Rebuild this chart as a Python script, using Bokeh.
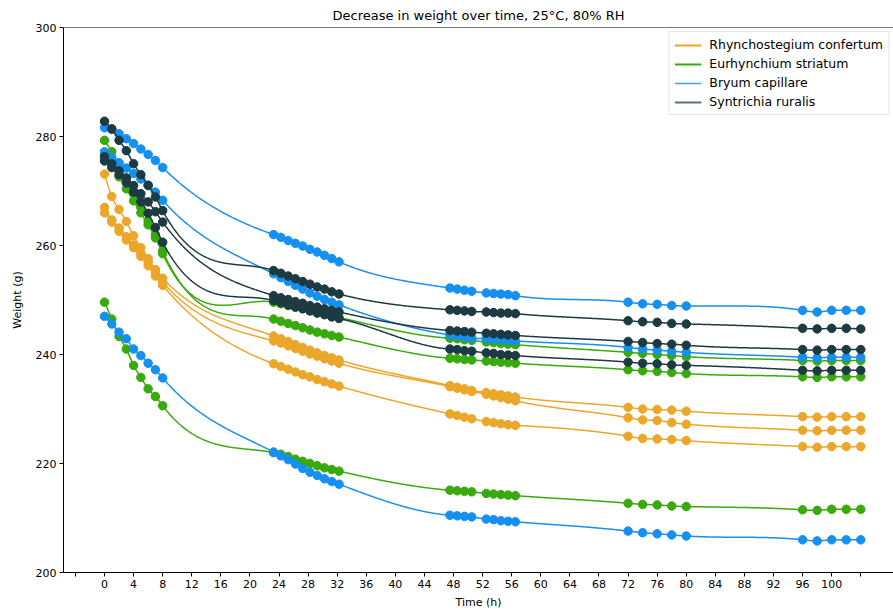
import numpy as np
from bokeh.plotting import figure
from bokeh.models import FixedTicker, Legend, LegendItem, Span, Range1d
from bokeh.embed import file_html
from bokeh.resources import INLINE

# ---------------- data ----------------
time_h = [0, 1, 2, 3, 4, 5, 6, 7, 8,
          23.25, 24.25, 25.25, 26.25, 27.25, 28.25, 29.25, 30.25, 31.25, 32.25,
          47.5, 48.5, 49.5, 50.5, 52.5, 53.5, 54.5, 55.5, 56.5,
          72, 74, 76, 78, 80,
          96, 98, 100, 102, 104]

rhyn_1 = [273.1, 269.0, 266.6, 264.4, 261.8, 259.6, 257.6, 255.6, 254.0,
          243.4, 242.9, 242.4, 241.8, 241.3, 240.8, 240.3, 239.8, 239.4, 239.0,
          234.3, 234.0, 233.7, 233.4, 233.0, 232.8, 232.6, 232.4, 232.2,
          230.3, 230.0, 229.9, 229.8, 229.6,
          228.6, 228.5, 228.6, 228.6, 228.6]
rhyn_2 = [267.0, 264.7, 263.2, 261.6, 260.1, 258.6, 257.0, 255.0, 253.3,
          242.5, 242.1, 241.6, 241.1, 240.6, 240.1, 239.7, 239.2, 238.8, 238.4,
          234.1, 233.8, 233.5, 233.2, 232.7, 232.4, 232.1, 231.8, 231.5,
          228.4, 228.0, 227.9, 227.5, 227.2,
          226.1, 226.0, 226.1, 226.1, 226.1]
rhyn_3 = [266.0, 264.3, 262.6, 261.0, 259.6, 258.0, 256.3, 254.4, 252.7,
          238.3, 237.8, 237.3, 236.8, 236.3, 235.9, 235.4, 235.0, 234.6, 234.2,
          229.1, 228.8, 228.5, 228.2, 227.7, 227.5, 227.3, 227.1, 227.0,
          225.0, 224.6, 224.5, 224.4, 224.2,
          223.1, 223.0, 223.1, 223.1, 223.1]

eurh_1 = [279.3, 277.2, 274.8, 272.0, 269.5, 267.0, 264.5, 262.0, 259.0,
          246.5, 246.1, 245.7, 245.3, 244.9, 244.5, 244.1, 243.8, 243.5, 243.2,
          239.3, 239.2, 239.1, 239.0, 238.8, 238.7, 238.6, 238.5, 238.4,
          237.2, 237.0, 236.9, 236.7, 236.5,
          235.9, 235.8, 235.9, 235.9, 235.9]
eurh_2 = [277.0, 275.0, 272.6, 270.4, 268.2, 266.0, 263.8, 261.4, 258.5,
          249.6, 249.3, 249.0, 248.7, 248.4, 248.1, 247.7, 247.4, 247.1, 246.8,
          243.0, 242.9, 242.7, 242.6, 242.3, 242.2, 242.0, 241.9, 241.8,
          240.4, 240.2, 240.0, 239.8, 239.6,
          238.9, 238.8, 238.9, 238.9, 238.9]
eurh_3 = [249.6, 246.5, 243.3, 241.0, 238.0, 235.8, 233.7, 232.3, 230.6,
          222.0, 221.7, 221.3, 220.8, 220.4, 220.0, 219.6, 219.2, 218.9, 218.6,
          215.1, 215.0, 214.9, 214.8, 214.5, 214.4, 214.3, 214.2, 214.1,
          212.7, 212.5, 212.4, 212.2, 212.1,
          211.5, 211.4, 211.6, 211.6, 211.6]

bryum_1 = [281.6, 281.3, 280.5, 279.6, 278.7, 277.7, 276.7, 275.6, 274.3,
           262.0, 261.5, 260.9, 260.4, 259.9, 259.3, 258.8, 258.2, 257.6, 257.0,
           252.2, 252.0, 251.8, 251.6, 251.3, 251.2, 251.1, 251.0, 250.8,
           249.6, 249.3, 249.2, 249.0, 248.9,
           248.1, 247.8, 248.1, 248.1, 248.1]
bryum_2 = [277.2, 276.2, 275.2, 274.2, 273.2, 272.2, 271.1, 269.8, 268.3,
           254.8, 254.1, 253.4, 252.7, 252.0, 251.3, 250.7, 250.1, 249.6, 249.1,
           243.6, 243.4, 243.2, 243.0, 242.9, 242.8, 242.7, 242.6, 242.5,
           241.3, 241.0, 240.8, 240.6, 240.4,
           239.5, 239.4, 239.5, 239.5, 239.5]
bryum_3 = [247.0, 245.6, 244.1, 242.9, 241.0, 239.8, 238.4, 237.2, 235.7,
           222.1, 221.4, 220.7, 219.9, 219.1, 218.4, 217.8, 217.2, 216.7, 216.2,
           210.5, 210.4, 210.3, 210.2, 209.8, 209.7, 209.5, 209.4, 209.3,
           207.6, 207.3, 207.1, 206.9, 206.7,
           206.0, 205.8, 206.0, 206.0, 206.0]

syn_1 = [282.8, 281.4, 279.3, 277.4, 275.0, 273.0, 271.0, 268.9, 266.4,
         255.4, 254.9, 254.4, 253.9, 253.4, 252.9, 252.4, 252.0, 251.5, 251.1,
         248.2, 248.1, 248.0, 247.9, 247.8, 247.7, 247.6, 247.6, 247.5,
         246.2, 246.0, 245.9, 245.7, 245.6,
         244.8, 244.7, 244.8, 244.8, 244.7]
syn_2 = [276.3, 275.0, 273.7, 272.4, 271.0, 269.5, 268.0, 266.2, 264.3,
         250.8, 250.4, 250.1, 249.7, 249.4, 249.0, 248.7, 248.4, 248.1, 247.8,
         244.4, 244.3, 244.2, 244.1, 243.9, 243.8, 243.7, 243.6, 243.5,
         242.4, 242.2, 242.0, 241.9, 241.7,
         240.9, 240.8, 240.9, 240.9, 240.9]
syn_3 = [275.5, 274.3, 273.0, 271.5, 269.8, 268.0, 265.9, 263.3, 260.6,
         249.9, 249.5, 249.1, 248.7, 248.4, 248.0, 247.6, 247.3, 246.9, 246.6,
         241.0, 240.9, 240.7, 240.6, 240.3, 240.2, 240.0, 239.9, 239.8,
         238.6, 238.4, 238.3, 238.1, 238.0,
         237.1, 237.0, 237.1, 237.1, 237.1]

species = ["Rhynchostegium confertum", "Eurhynchium striatum",
           "Bryum capillare", "Syntrichia ruralis"]
series = [[rhyn_1, rhyn_2, rhyn_3], [eurh_1, eurh_2, eurh_3],
          [bryum_1, bryum_2, bryum_3], [syn_1, syn_2, syn_3]]
x_ticks = list(range(-4, 108, 4))
y_ticks = [200, 220, 240, 260, 280, 300]

# ---------------- styles ----------------
colors = ["#eba72a", "#38aa0b", "#1590f0", "#1c3a42"]
legend_colors = ["#eba72a", "#38aa0b", "#3aa3f5", "#5c7272"]
legend_widths = [2.2, 2.2, 1.4, 2.2]


def natural_spline(x, y, n=1200):
    x = np.asarray(x, float)
    y = np.asarray(y, float)
    m = len(x)
    h = np.diff(x)
    A = np.zeros((m, m))
    r = np.zeros(m)
    A[0, 0] = 1.0
    A[-1, -1] = 1.0
    for i in range(1, m - 1):
        A[i, i - 1] = h[i - 1]
        A[i, i] = 2 * (h[i - 1] + h[i])
        A[i, i + 1] = h[i]
        r[i] = 6 * ((y[i + 1] - y[i]) / h[i] - (y[i] - y[i - 1]) / h[i - 1])
    M = np.linalg.solve(A, r)
    xs = np.linspace(x[0], x[-1], n)
    idx = np.clip(np.searchsorted(x, xs) - 1, 0, m - 2)
    x0, x1 = x[idx], x[idx + 1]
    hh = x1 - x0
    ys = (M[idx] * (x1 - xs) ** 3 / (6 * hh) + M[idx + 1] * (xs - x0) ** 3 / (6 * hh)
          + (y[idx] / hh - M[idx] * hh / 6) * (x1 - xs)
          + (y[idx + 1] / hh - M[idx + 1] * hh / 6) * (xs - x0))
    return xs, ys


p = figure(width=893, height=612,
           x_range=Range1d(-5.64, 108.5), y_range=Range1d(200, 300),
           output_backend="svg", toolbar_location=None,
           min_border_left=63, min_border_right=0,
           min_border_top=27, min_border_bottom=40,
           title="Decrease in weight over time, 25°C, 80% RH")
p.background_fill_color = "white"
p.border_fill_color = "white"
p.outline_line_color = None
p.xgrid.visible = False
p.ygrid.visible = False

p.title.align = "center"
p.title.text_font = "DejaVu Sans"
p.title.text_font_size = "13px"
p.title.text_font_style = "normal"
p.title.text_color = "black"

for ax in (p.xaxis, p.yaxis):
    ax.axis_line_color = "black"
    ax.axis_line_width = 1
    ax.major_tick_line_color = "black"
    ax.major_tick_out = 4
    ax.major_tick_in = 0
    ax.minor_tick_line_color = None
    ax.major_label_text_font = "DejaVu Sans"
    ax.major_label_text_font_size = "11px"
    ax.major_label_text_color = "black"
    ax.axis_label_text_font = "DejaVu Sans"
    ax.axis_label_text_font_size = "11px"
    ax.axis_label_text_font_style = "normal"
    ax.axis_label_text_color = "black"

p.xaxis.ticker = FixedTicker(ticks=x_ticks)
p.xaxis.major_label_overrides = {-4: "", 104: ""}
p.xaxis.axis_label = "Time (h)"
p.xaxis.major_label_standoff = 3
p.xaxis.axis_label_standoff = 5
p.yaxis.ticker = FixedTicker(ticks=y_ticks)
p.yaxis.axis_label = "Weight (g)"
p.yaxis.major_label_standoff = 3
p.yaxis.axis_label_standoff = 9

p.add_layout(Span(location=300, dimension="width", line_color="black", line_width=1))

for col, group in zip(colors, series):
    for vals in group:
        xs, ys = natural_spline(time_h, vals)
        p.line(xs, ys, line_color=col, line_width=1.5)
        p.scatter(time_h, vals, size=8.5, fill_color=col, line_color=col)

items = []
for name, lc, lw in zip(species, legend_colors, legend_widths):
    # legend swatch renderer, placed outside the visible range
    r = p.line(x=[-1000, -999], y=[0, 0], line_color=lc, line_width=lw)
    items.append(LegendItem(label=name, renderers=[r]))

legend = Legend(items=items, location="top_right")
legend.label_text_font = "DejaVu Sans"
legend.label_text_font_size = "12.5px"
legend.label_text_color = "black"
legend.glyph_width = 27
legend.glyph_height = 14
legend.label_height = 14
legend.spacing = 4
legend.padding = 5
legend.margin = 4
legend.label_standoff = 8
legend.border_line_color = "#cccccc"
legend.border_line_width = 1
legend.background_fill_alpha = 0.85
p.add_layout(legend)

open("out.html", "w").write(file_html(p, INLINE))
